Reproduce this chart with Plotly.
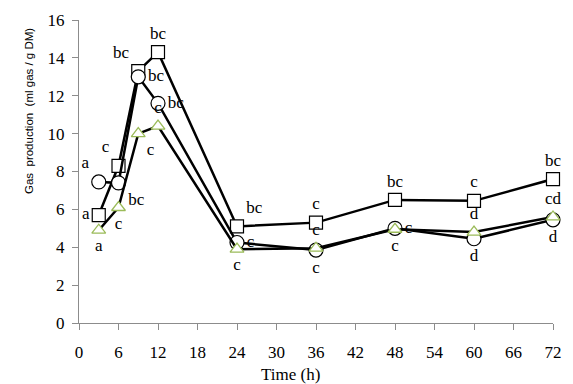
import plotly.graph_objects as go

time_h = [3, 6, 9, 12, 24, 36, 48, 60, 72]

sq_vals = [5.7, 8.3, 13.3, 14.3, 5.1, 5.3, 6.5, 6.45, 7.6]
sq_text = ["a", "c", "bc", "bc", "bc", "c", "bc", "c", "bc"]
sq_pos = ["middle left", "top left", "top left", "top center", "top right",
          "top center", "top center", "top center", "top center"]

ci_vals = [7.45, 7.4, 13.0, 11.6, 4.25, 3.85, 5.0, 4.45, 5.45]
ci_text = ["a", "bc", "bc", "bc", "c", "c", "c", "d", "d"]
ci_pos = ["top left", "bottom right", "middle right", "middle right", "middle right",
          "bottom center", "middle right", "bottom center", "bottom center"]

tr_vals = [4.9, 6.1, 10.0, 10.4, 3.9, 3.95, 4.95, 4.8, 5.6]
tr_text = ["a", "c", "c", "c", "c", "c", "c", "d", "cd"]
tr_pos = ["bottom center", "bottom center", "bottom right", "top center", "bottom center",
          "top center", "bottom center", "top center", "top center"]

x_ticks = list(range(0, 73, 6))
y_ticks = list(range(0, 17, 2))

serif = "Liberation Serif"
label_font = dict(family=serif, size=17, color="black")

fig = go.Figure()

fig.add_trace(go.Scatter(
    x=time_h, y=sq_vals, mode="lines+markers+text", text=sq_text, textposition=sq_pos,
    textfont=label_font, cliponaxis=False,
    line=dict(color="black", width=2.5),
    marker=dict(symbol="square", size=13, color="white", line=dict(color="black", width=1.2)),
))
fig.add_trace(go.Scatter(
    x=time_h, y=ci_vals, mode="lines+markers+text", text=ci_text, textposition=ci_pos,
    textfont=label_font, cliponaxis=False,
    line=dict(color="black", width=2.5),
    marker=dict(symbol="circle", size=14, color="white", line=dict(color="black", width=1.2)),
))
fig.add_trace(go.Scatter(
    x=time_h, y=tr_vals, mode="lines+markers+text", text=tr_text, textposition=tr_pos,
    textfont=label_font, cliponaxis=False,
    line=dict(color="black", width=2.5),
    marker=dict(symbol="triangle-up", size=12, color="white", line=dict(color="#9bbb59", width=1.3)),
))

W, H = 565, 376
L, R, T, B = 71, 20, 12, 61
pw, ph = W - L - R, H - T - B

nb = "\u00a0"
fig.update_layout(
    width=W, height=H,
    margin=dict(l=L, r=R, t=T, b=B, autoexpand=False),
    paper_bgcolor="white", plot_bgcolor="white",
    showlegend=False,
    font=dict(family=serif, size=16, color="black"),
    annotations=[
        dict(text="Time (h)", x=(290 - 79) / pw, y=-(374 - 323) / ph,
             xref="paper", yref="paper", showarrow=False,
             font=dict(family=serif, size=17, color="black"), xanchor="center", yanchor="middle"),
        dict(text=f"Gas {nb}production {nb}(ml gas / g DM)", textangle=-90,
             xref="paper", yref="paper",
             x=-(79 - 29) / pw, y=(323 - 111) / ph, showarrow=False,
             xanchor="center", yanchor="middle",
             font=dict(family="Liberation Sans", size=11.5, color="black")),
    ],
)

fig.update_xaxes(range=[0, 72], tickvals=x_ticks, ticktext=[str(v) for v in x_ticks],
                 showgrid=False, zeroline=False, showline=True, linecolor="#8c8c8c", linewidth=1,
                 ticks="outside", ticklen=6, tickcolor="#8c8c8c", ticklabelstandoff=8,
                 tickfont=dict(family=serif, size=17, color="black"))
fig.update_yaxes(range=[0, 16], tickvals=y_ticks, ticktext=[str(v) for v in y_ticks],
                 showgrid=False, zeroline=False, showline=True, linecolor="#8c8c8c", linewidth=1,
                 ticks="outside", ticklen=6, tickcolor="#8c8c8c", ticklabelstandoff=4,
                 tickfont=dict(family=serif, size=17, color="black"))

fig.write_html("out.html")
